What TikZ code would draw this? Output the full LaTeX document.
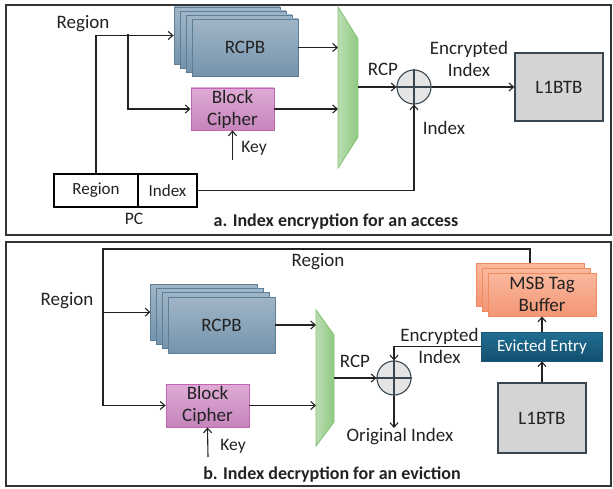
\documentclass[tikz,border=0pt]{standalone}
\usepackage{fontspec}
\setmainfont{Carlito}
\usetikzlibrary{arrows.meta,calc}
\definecolor{rcpbTop}{HTML}{A0B5C6}
\definecolor{rcpbBot}{HTML}{7594AC}
\definecolor{rcpbLine}{HTML}{5B7F99}
\definecolor{bcTop}{HTML}{DEAAD4}
\definecolor{bcBot}{HTML}{C585BC}
\definecolor{bcLine}{HTML}{C266B4}
\definecolor{msbTop}{HTML}{FBB89D}
\definecolor{msbBot}{HTML}{F39676}
\definecolor{msbLine}{HTML}{F08A60}
\definecolor{evTop}{HTML}{216F93}
\definecolor{evBot}{HTML}{124F6E}
\definecolor{muxL}{HTML}{BADDB1}
\definecolor{muxR}{HTML}{90C982}
\definecolor{muxLine}{HTML}{86C274}
\definecolor{l1Fill}{HTML}{D4D4D4}
\definecolor{l1Line}{HTML}{3A4750}
\definecolor{txt}{HTML}{222222}
\definecolor{panelLine}{HTML}{333333}
\begin{document}
\begin{tikzpicture}[x=1pt,y=-1pt,
  font=\fontsize{19}{22}\selectfont, text=txt,
  >={Straight Barb[length=4.5pt,width=8pt]},
  conn/.style={draw=txt, line width=1.1pt},
  panel/.style={draw=panelLine, line width=1.6pt},
  rcpb/.style={draw=rcpbLine, line width=0.9pt, top color=rcpbTop, bottom color=rcpbBot, minimum width=106pt, minimum height=57pt, inner sep=0pt},
  bc/.style={draw=bcLine, line width=0.9pt, top color=bcTop, bottom color=bcBot, minimum width=83pt, minimum height=42pt, inner sep=0pt, align=center},
  msb/.style={draw=msbLine, line width=0.9pt, top color=msbTop, bottom color=msbBot, minimum width=108pt, minimum height=43pt, inner sep=0pt, align=center},
  evbox/.style={draw=evTop!80!black, line width=0.6pt, top color=evTop, bottom color=evBot, minimum width=121pt, minimum height=29pt, inner sep=0pt, text=white, font=\fontsize{17}{20}\selectfont},
  l1/.style={draw=l1Line, line width=1.4pt, fill=l1Fill, minimum width=88pt, minimum height=68pt, inner sep=0pt},
  xorc/.style={circle, draw=l1Line, line width=1.1pt, fill=l1Fill!60!white, minimum size=34pt, inner sep=0pt},
  pccell/.style={draw=black, line width=1.1pt, minimum height=33pt, inner sep=0pt, font=\fontsize{17}{20}\selectfont},
  small/.style={font=\fontsize{17.5}{20}\selectfont},
  captxt/.style={font=\fontsize{18}{20}\selectfont\bfseries},
  muxstyle/.style={draw=muxLine, line width=0.9pt, left color=muxL, right color=muxR}
]
\useasboundingbox (0,0) rectangle (613,489);
% panels
\draw[panel] (6,5) rectangle (611,235);
\draw[panel] (6,242) rectangle (611,486);

% ---------------- panel a ----------------
\foreach \k in {3,2,1} \node[rcpb] (rcpbA\k) at ({245-6*\k},{47.5-4*\k}) {};
\node[rcpb] (rcpbA) at (245,47.5) {RCPB};
\node[bc] (bcA) at (232.5,109) {Block\\Cipher};
\node[pccell, minimum width=84pt] (pcR) at (96,190.5) {Region};
\node[pccell, minimum width=59pt] (pcI) at (167.5,190.5) {Index};
\node (pcLab) at (134,219) [small] {PC};
\node (regA) at (83,24) {Region};
% mux a
\path[muxstyle] (338,7) -- (358,39) -- (358,137) -- (338,168) -- cycle;
\coordinate (muxAin1) at (338,47.5);
\coordinate (muxAin2) at (338,109);
\coordinate (muxAout) at (358,87);
\node[xorc] (xorA) at (414,87) {};
\draw[l1Line, line width=1.1pt] (xorA.north) -- (xorA.south) (xorA.west) -- (xorA.east);
\node[l1] (l1A) at (559,87) {L1BTB};
\coordinate (keyA) at (232.5,160);
\coordinate (brA) at (128,34);

\draw[conn,->] (pcR.north) |- (rcpbA3.west);
\draw[conn,->] (brA) |- (bcA.west);
\draw[conn,->] (keyA) -- (bcA.south);
\node[small] (keyLabA) at (254,148) {Key};
\draw[conn,->] (rcpbA.east) -- (muxAin1);
\draw[conn,->] (bcA.east) -- (muxAin2);
\draw[conn,->] (muxAout) -- (xorA.west);
\draw[conn,->] (xorA.east) -- (l1A.west);
\draw[conn,->] (pcI.east) -| (xorA.south);
\node (rcpLabA) at (383,69) {RCP};
\node[align=center] (encLabA) at (469,59) {Encrypted\\Index};
\node (idxLabA) at (444,128) {Index};
\node[captxt] (capA) at (336,222) {a. Index encryption for an access};

% ---------------- panel b ----------------
\foreach \k in {3,2,1} \node[rcpb, minimum width=107pt, minimum height=56pt] (rcpbB\k) at ({221.5-5.7*\k},{325-4.3*\k}) {};
\node[rcpb, minimum width=107pt, minimum height=56pt] (rcpbB) at (221.5,325) {RCPB};
\node[bc, minimum height=43pt] (bcB) at (207.5,405.5) {Block\\Cipher};
\foreach \k in {2,1} \node[msb] (msbB\k) at ({542-6*\k},{294.5-5*\k}) {};
\node[msb] (msbB) at (542,294.5) {MSB Tag\\Buffer};
\node[evbox] (evB) at (542,346.5) {Evicted Entry};
\node[l1, minimum height=70pt] (l1B) at (542,418) {L1BTB};
% mux b
\path[muxstyle] (316,310) -- (334,335) -- (334,422) -- (316,446) -- cycle;
\coordinate (muxBin1) at (316,325);
\coordinate (muxBin2) at (316,405.5);
\coordinate (muxBout) at (334,378);
\node[xorc] (xorB) at (394,378) {};
\draw[l1Line, line width=1.1pt] (xorB.north) -- (xorB.south) (xorB.west) -- (xorB.east);
\coordinate (tlB) at (103,249);
\coordinate (keyB) at (208,457);
\coordinate (origB) at (394,428);

\draw[conn,->] (msbB2.north) |- (tlB) |- (bcB.west);
\draw[conn,->] (tlB |- rcpbB3.west) -- (rcpbB3.west);
\draw[conn,->] (keyB) -- (bcB.south);
\node[small] (keyLabB) at (233,446) {Key};
\draw[conn,->] (rcpbB.east) -- (muxBin1);
\draw[conn,->] (bcB.east) -- (muxBin2);
\draw[conn,->] (muxBout) -- (xorB.west);
\draw[conn,->] (xorB.south) -- (origB);
\draw[conn,->] (evB.west) -| (xorB.north);
\draw[conn,->] (evB.north) -- (msbB.south);
\draw[conn,->] (l1B.north) -- (evB.south);
\node (regB1) at (67,301) {Region};
\node (regB2) at (318,262) {Region};
\node (rcpLabB) at (355,361) {RCP};
\node[align=center] (encLabB) at (439.5,346) {Encrypted\\Index};
\node (origLab) at (400,437) {Original Index};
\node[captxt] (capB) at (332,475) {b. Index decryption for an eviction};
\end{tikzpicture}
\end{document}
